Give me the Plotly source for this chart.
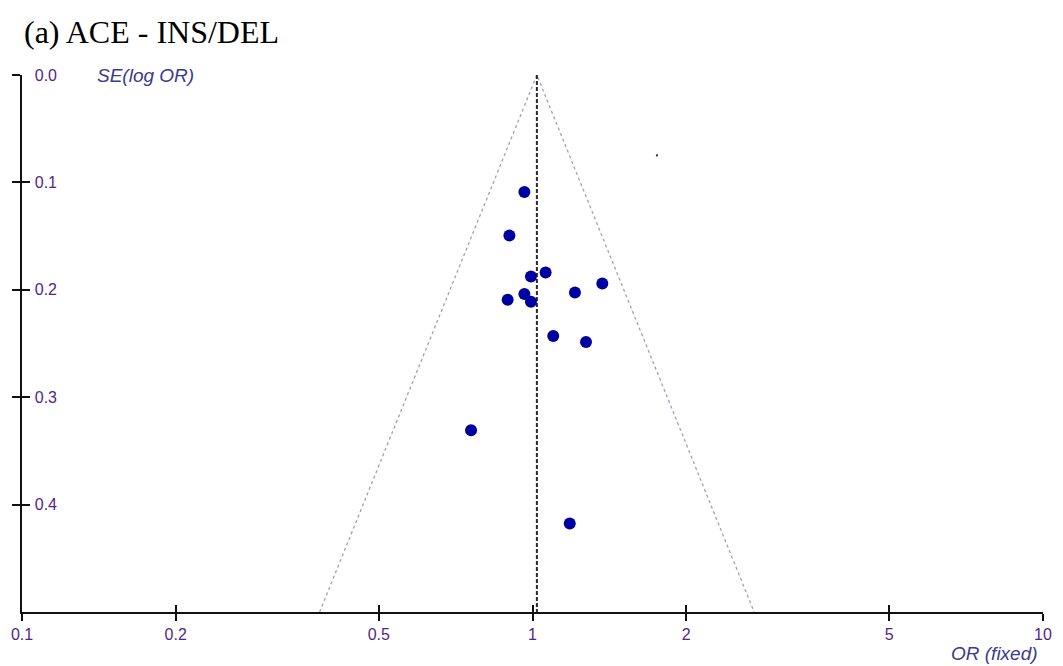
import plotly.graph_objects as go
import numpy as np

# Study data: odds ratio and standard error of log OR
odds_ratio = [0.964, 0.901, 0.993, 1.061, 1.370, 1.211, 0.964, 0.894, 0.993, 1.098, 1.273, 0.758, 1.183]
se_log_or = [0.109, 0.1495, 0.1876, 0.1838, 0.1941, 0.2025, 0.204, 0.2093, 0.2112, 0.243, 0.2486, 0.3308, 0.4175]
pooled_or = 1.02
se_max = 0.5

x_ticks = [0.1, 0.2, 0.5, 1, 2, 5, 10]
x_tick_labels = ["0.1", "0.2", "0.5", "1", "2", "5", "10"]
y_ticks = [0.0, 0.1, 0.2, 0.3, 0.4]
y_tick_labels = ["0.0", "0.1", "0.2", "0.3", "0.4"]

# stray dot visible in the picture
stray_or = [1.753]
stray_se = [0.0748]

label_color = "#55248a"
title_color = "#3a3a8f"

fig = go.Figure()

# funnel (pseudo 95% CI) lines
lo = pooled_or * np.exp(-1.96 * se_max)
hi = pooled_or * np.exp(1.96 * se_max)
fig.add_trace(go.Scatter(x=[lo, pooled_or, hi], y=[se_max, 0, se_max], mode="lines",
                         line=dict(color="#a0a0b4", width=1.3, dash="dot"),
                         hoverinfo="skip", showlegend=False))
# pooled estimate line
fig.add_trace(go.Scatter(x=[pooled_or, pooled_or], y=[0, se_max], mode="lines",
                         line=dict(color="#2a2a2a", width=2, dash="4px,2px"),
                         hoverinfo="skip", showlegend=False))
# studies
fig.add_trace(go.Scatter(x=odds_ratio, y=se_log_or, mode="markers",
                         marker=dict(color="#0000a0", size=12),
                         showlegend=False))
fig.add_trace(go.Scatter(x=stray_or, y=stray_se, mode="markers",
                         marker=dict(color="#333333", size=2, symbol="square"),
                         hoverinfo="skip", showlegend=False))
# invisible trace for overlay axes (crossing ticks)
fig.add_trace(go.Scatter(x=[1], y=[0.2], xaxis="x2", yaxis="y2", mode="markers",
                         marker=dict(opacity=0), hoverinfo="skip", showlegend=False))

fig.update_layout(
    width=1055, height=658,
    margin=dict(l=14, r=20, t=67, b=54),
    paper_bgcolor="white", plot_bgcolor="white",
    font=dict(family="Liberation Sans, Arial", size=16, color=label_color),
    xaxis=dict(type="log", range=[-1, 1], tickvals=x_ticks, ticktext=x_tick_labels,
               showgrid=False, zeroline=False, showline=True, linecolor="#111111", linewidth=1.6,
               ticks="outside", ticklen=7, tickwidth=1.6, tickcolor="#111111",
               tickfont=dict(size=16, color=label_color), anchor="y", automargin=False),
    yaxis=dict(range=[se_max, 0], tickvals=y_ticks, ticktext=y_tick_labels,
               showgrid=False, zeroline=False, showline=True, linecolor="#111111", linewidth=1.6,
               ticks="outside", ticklen=8, tickwidth=1.6, tickcolor="#111111",
               ticklabelstandoff=-48,
               tickfont=dict(size=16, color=label_color), anchor="x", automargin=False),
    xaxis2=dict(type="log", range=[-1, 1], overlaying="x", anchor="y2", tickvals=x_ticks,
                showticklabels=False, showgrid=False, zeroline=False, showline=False,
                ticks="inside", ticklen=7, tickwidth=1.6, tickcolor="#111111", side="bottom",
                automargin=False),
    yaxis2=dict(range=[se_max, 0], overlaying="y", anchor="x2", tickvals=y_ticks,
                showticklabels=False, showgrid=False, zeroline=False, showline=False,
                ticks="inside", ticklen=8, tickwidth=1.6, tickcolor="#111111", side="left",
                automargin=False),
    annotations=[
        dict(text="(a) ACE - INS/DEL", xref="paper", yref="paper", x=0.0, y=1.0, yshift=43,
             xanchor="left", yanchor="middle", showarrow=False,
             font=dict(family="Liberation Serif, Times New Roman", size=32, color="black")),
        dict(text="<i>SE(log OR)</i>", xref="paper", yref="paper", x=0.0715, y=1.0,
             xanchor="left", yanchor="middle", showarrow=False,
             font=dict(size=19, color=title_color)),
        dict(text="<i>OR (fixed)</i>", xref="paper", yref="paper", x=0.997, y=0, yshift=-41,
             xanchor="right", yanchor="middle", showarrow=False,
             font=dict(size=19, color=title_color)),
    ],
)

fig.write_html("out.html")
